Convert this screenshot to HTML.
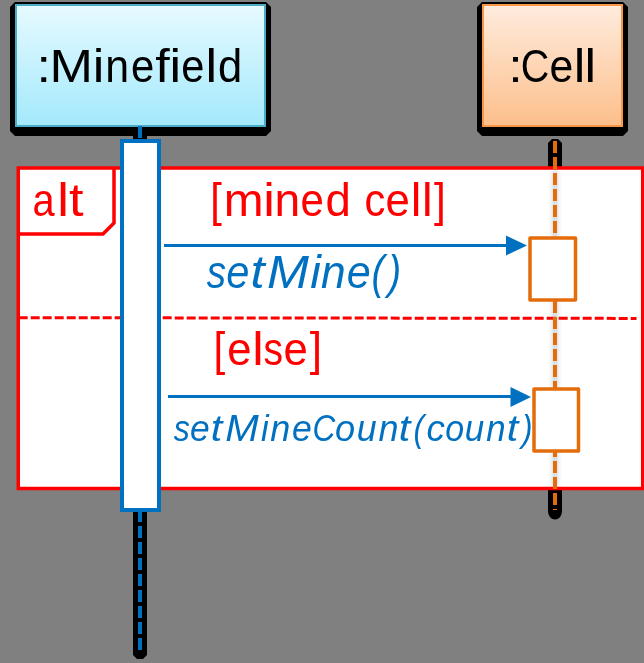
<!DOCTYPE html>
<html><head><meta charset="utf-8">
<style>
html,body{margin:0;padding:0;background:#808080;width:644px;height:663px;overflow:hidden}
svg{display:block;will-change:transform}
text{font-family:"Liberation Sans",sans-serif}
</style></head>
<body>
<svg width="644" height="663" viewBox="0 0 644 663">
<defs>
<linearGradient id="gb" x1="0" y1="0" x2="0" y2="1">
<stop offset="0" stop-color="#E6FAFF"/>
<stop offset="1" stop-color="#A3E9FC"/>
</linearGradient>
<linearGradient id="go" x1="0" y1="0" x2="0" y2="1">
<stop offset="0" stop-color="#FFECDE"/>
<stop offset="1" stop-color="#FCBF8B"/>
</linearGradient>
<filter id="halo" filterUnits="userSpaceOnUse" x="540" y="160" width="30" height="340">
<feGaussianBlur stdDeviation="2"/>
</filter>
</defs>
<rect x="0" y="0" width="644" height="663" fill="#808080"/>

<!-- lifeline shadows -->
<path d="M133,127 H147 V655 L143,659 H137 L133,655 Z" fill="#000"/>
<path d="M552,139 H558 L562,143 V511 C562,516 558.5,519.5 555,519.5 C551.5,519.5 548,516 548,511 V143 Z" fill="#000"/>

<!-- Minefield box -->
<path d="M15,2 H266 L271,7 V131 L266,136 H15 L10,131 V7 Z" fill="#000"/>
<rect x="16" y="5" width="249" height="121" fill="url(#gb)" stroke="#4BACC6" stroke-width="2"/>
<!-- Cell box -->
<path d="M482,2 H623 L628,7 V131 L623,136 H482 L477,131 V7 Z" fill="#000"/>
<rect x="483" y="5" width="139" height="121" fill="url(#go)" stroke="#F79646" stroke-width="2"/>

<!-- Minefield lifeline dash above activation -->
<line x1="140" y1="126" x2="140" y2="139" stroke="#0070C0" stroke-width="4" stroke-dasharray="12 4" stroke-dashoffset="0"/>

<!-- alt frame -->
<rect x="18.25" y="168" width="624.5" height="320.5" fill="#fff" stroke="#FF0000" stroke-width="3.5"/>
<path d="M18,234 H103 L114,223 V168" fill="none" stroke="#FF0000" stroke-width="3.5"/>
<line x1="20" y1="317.7" x2="636.5" y2="318.4" stroke="#FF0000" stroke-width="3" stroke-dasharray="9 3" stroke-dashoffset="-10.7"/>

<!-- Cell lifeline dashes -->
<rect x="552" y="171" width="6" height="315" fill="#6A7A8A" opacity="0.3" filter="url(#halo)"/>
<line x1="555" y1="141" x2="555" y2="510" stroke="#E46C0A" stroke-width="4" stroke-dasharray="12 4" stroke-dashoffset="0"/>

<!-- activation boxes -->
<rect x="122" y="141" width="37" height="369" fill="#fff" stroke="#0070C0" stroke-width="4"/>
<rect x="530" y="238" width="45.5" height="62" fill="#fff" stroke="#E46C0A" stroke-width="3.5" stroke-linejoin="round"/>
<rect x="534" y="389" width="44.5" height="62" fill="#fff" stroke="#E46C0A" stroke-width="3.5" stroke-linejoin="round"/>

<!-- Minefield lifeline below -->
<line x1="140" y1="512" x2="140" y2="650" stroke="#0070C0" stroke-width="4" stroke-dasharray="12 4" stroke-dashoffset="2"/>

<!-- arrows -->
<line x1="164" y1="245.5" x2="510" y2="245.5" stroke="#0070C0" stroke-width="3"/>
<path d="M506,235.5 L527,245.5 L506,255.5 Z" fill="#0070C0"/>
<line x1="168" y1="396.5" x2="514" y2="396.5" stroke="#0070C0" stroke-width="3"/>
<path d="M510.5,387 L531,397 L510.5,407 Z" fill="#0070C0"/>

<!-- texts -->
<g font-size="46.6" fill="#000"><text transform="matrix(1.1200 0 0 1 36.60 81.9)">:</text><text transform="matrix(1.1200 0 0 1 49.56 81.9)">M</text><text transform="matrix(1.1200 0 0 1 92.67 81.9)">i</text><text transform="matrix(0.9194 0 0 1 105.15 81.9)">n</text><text transform="matrix(0.8963 0 0 1 130.93 81.9)">e</text><text transform="matrix(1.1200 0 0 1 155.14 81.9)">f</text><text transform="matrix(1.1200 0 0 1 169.62 81.9)">i</text><text transform="matrix(0.8918 0 0 1 181.23 81.9)">e</text><text transform="matrix(1.1200 0 0 1 205.54 81.9)">l</text><text transform="matrix(0.9353 0 0 1 217.97 81.9)">d</text></g>
<g font-size="46.5" fill="#000"><text transform="matrix(1.1200 0 0 1 508.22 81.9)">:</text><text transform="matrix(0.8500 0 0 1 520.83 81.9)">C</text><text transform="matrix(0.9166 0 0 1 549.49 81.9)">e</text><text transform="matrix(1.1200 0 0 1 573.65 81.9)">l</text><text transform="matrix(1.1200 0 0 1 584.50 81.9)">l</text></g>
<g font-size="46.8" fill="#FF0000"><text transform="matrix(0.8500 0 0 1 32.54 215.8)">a</text><text transform="matrix(1.1183 0 0 1 57.27 215.8)">l</text><text transform="matrix(1.1200 0 0 1 69.01 215.8)">t</text></g>
<g font-size="46.8" fill="#FF0000"><text transform="matrix(0.8924 0 0 1 210.32 215.7)">[</text><text transform="matrix(1.0216 0 0 1 223.63 215.7)">m</text><text transform="matrix(1.1200 0 0 1 263.14 215.7)">i</text><text transform="matrix(0.9859 0 0 1 274.54 215.7)">n</text><text transform="matrix(0.8971 0 0 1 300.52 215.7)">e</text><text transform="matrix(0.9740 0 0 1 325.59 215.7)">d</text><text transform="matrix(0.8921 0 0 1 364.43 215.7)">c</text><text transform="matrix(0.9335 0 0 1 385.44 215.7)">e</text><text transform="matrix(1.0211 0 0 1 410.68 215.7)">l</text><text transform="matrix(1.0211 0 0 1 421.88 215.7)">l</text><text transform="matrix(0.9032 0 0 1 434.07 215.7)">]</text></g>
<g font-size="46.0" fill="#FF0000"><text transform="matrix(0.9189 0 0 1 213.49 365.3)">[</text><text transform="matrix(0.9497 0 0 1 227.24 365.3)">e</text><text transform="matrix(1.1200 0 0 1 252.26 365.3)">l</text><text transform="matrix(0.8500 0 0 1 263.49 365.3)">s</text><text transform="matrix(0.9497 0 0 1 283.54 365.3)">e</text><text transform="matrix(0.9626 0 0 1 309.75 365.3)">]</text></g>
<g font-size="45.4" font-style="italic" fill="#0070C0"><text transform="matrix(0.8500 0 0 1 206.65 287.8)">s</text><text transform="matrix(0.9167 0 0 1 226.30 287.8)">e</text><text transform="matrix(1.1200 0 0 1 250.40 287.8)">t</text><text transform="matrix(1.1092 0 0 1 267.05 287.8)">M</text><text transform="matrix(1.0506 0 0 1 310.13 287.8)">i</text><text transform="matrix(0.9762 0 0 1 321.06 287.8)">n</text><text transform="matrix(0.9485 0 0 1 346.75 287.8)">e</text><text transform="matrix(0.8500 0 0 1 371.44 287.8)">(</text><text transform="matrix(0.8500 0 0 1 388.20 287.8)">)</text></g>
<g font-size="37.2" font-style="italic" fill="#0070C0"><text transform="matrix(0.8622 0 0 1 173.82 441.0)">s</text><text transform="matrix(0.9526 0 0 1 189.91 441.0)">e</text><text transform="matrix(1.1200 0 0 1 210.69 441.0)">t</text><text transform="matrix(1.0823 0 0 1 225.26 441.0)">M</text><text transform="matrix(0.9293 0 0 1 261.04 441.0)">i</text><text transform="matrix(0.9683 0 0 1 270.30 441.0)">n</text><text transform="matrix(0.9582 0 0 1 292.10 441.0)">e</text><text transform="matrix(0.8500 0 0 1 312.43 441.0)">C</text><text transform="matrix(0.9731 0 0 1 335.02 441.0)">o</text><text transform="matrix(0.9629 0 0 1 356.70 441.0)">u</text><text transform="matrix(0.9683 0 0 1 378.50 441.0)">n</text><text transform="matrix(1.1200 0 0 1 398.64 441.0)">t</text><text transform="matrix(0.8500 0 0 1 413.61 441.0)">(</text><text transform="matrix(0.9903 0 0 1 426.49 441.0)">c</text><text transform="matrix(0.9130 0 0 1 445.19 441.0)">o</text><text transform="matrix(0.9411 0 0 1 464.83 441.0)">u</text><text transform="matrix(0.9357 0 0 1 486.22 441.0)">n</text><text transform="matrix(1.1200 0 0 1 506.69 441.0)">t</text><text transform="matrix(0.8500 0 0 1 522.11 441.0)">)</text></g>

</svg>
</body></html>
